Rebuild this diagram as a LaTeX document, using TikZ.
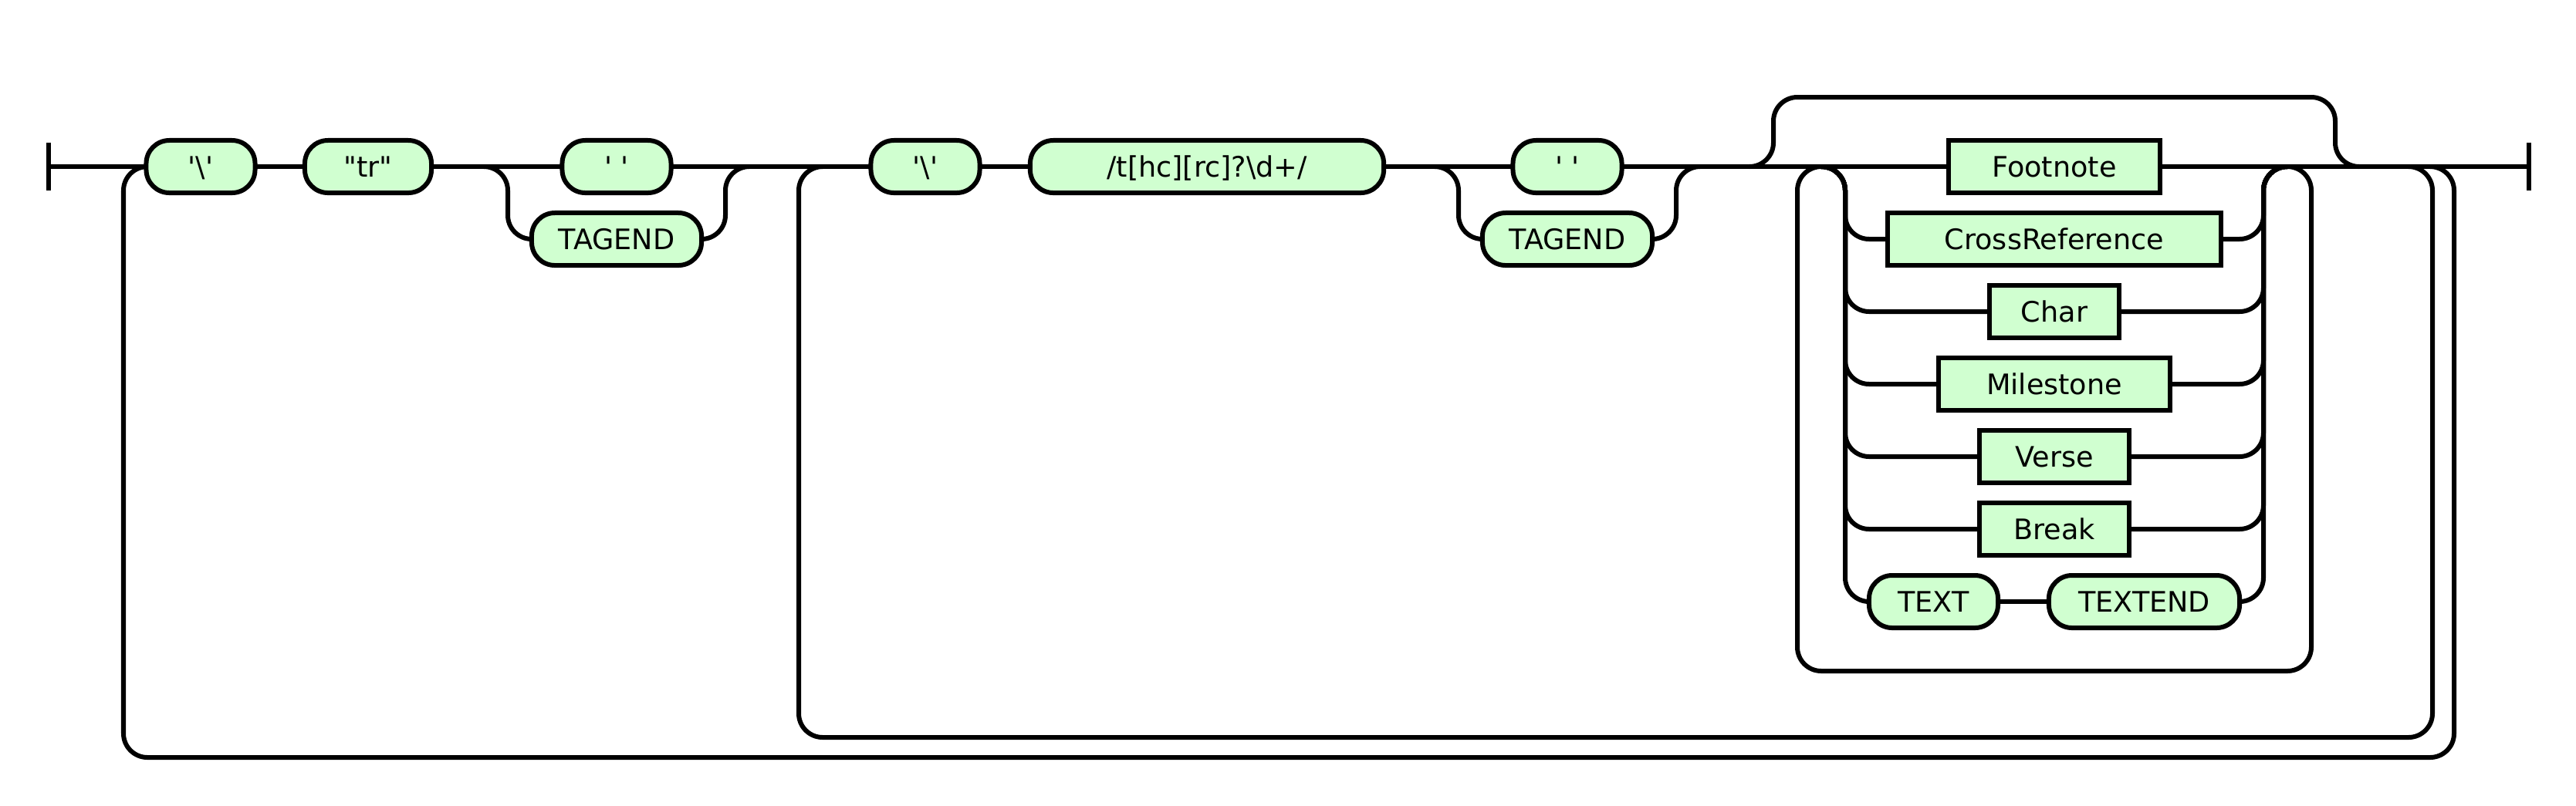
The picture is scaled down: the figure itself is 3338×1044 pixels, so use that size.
\documentclass[tikz,border=0pt]{standalone}
\usepackage{fontspec}
\newfontfamily\rrfont{DejaVu Sans}
\definecolor{rrgreen}{RGB}{208,255,208}
\tikzset{
  rail/.style={line width=0.06cm, rounded corners=0.31cm},
  rrbase/.style={draw, line width=0.06cm, fill=rrgreen, inner sep=0pt, outer sep=0pt,
    minimum height=0.68cm, text height=7.6pt, text depth=0pt,
    font=\rrfont\fontsize{10.4}{12}\selectfont},
  tbox/.style={rrbase, rounded corners=0.3cm, minimum width=#1cm},
  nbox/.style={rrbase, sharp corners, minimum width=#1cm},
}
\begin{document}
\begin{tikzpicture}[x=0.01cm, y=-0.01cm]
\useasboundingbox (0,0) rectangle (3338,1044);
% junction coordinates
\coordinate (sb) at (63,216);
\coordinate (eb) at (3277,216);
\coordinate (ol) at (191,216);
\coordinate (or) at (3149,216);
\coordinate (il) at (1066,216);
\coordinate (ir) at (3121,216);
\coordinate (c1s) at (627,216);
\coordinate (c1m) at (971,216);
\coordinate (c2s) at (1859,216);
\coordinate (c2m) at (2203,216);
\coordinate (zs) at (2267,216);
\coordinate (ze) at (3057,216);
\coordinate (c3s) at (2360,216);
\coordinate (c3m) at (2964,216);
% nodes
\node[tbox=1.41] (bs1) at (260,216) {'\textbackslash'};
\node[tbox=1.64] (tr) at (477,216) {"tr"};
\node[tbox=1.41] (sp1) at (799,216) {' '};
\node[tbox=2.20] (te1) at (799,310) {TAGEND};
\node[tbox=1.41] (bs2) at (1199,216) {'\textbackslash'};
\node[tbox=4.58] (rx) at (1564,216) {/t[hc][rc]?{\textbackslash}d+/};
\node[tbox=1.41] (sp2) at (2031,216) {' '};
\node[tbox=2.20] (te2) at (2031,310) {TAGEND};
\node[nbox=2.74] (fn) at (2662,216) {Footnote};
\node[nbox=4.32] (cr) at (2662,310) {CrossReference};
\node[nbox=1.67] (ch) at (2662,404) {Char};
\node[nbox=2.99] (ms) at (2662,498) {Milestone};
\node[nbox=1.94] (vs) at (2662,592) {Verse};
\node[nbox=1.94] (bk) at (2662,686) {Break};
\node[tbox=1.67] (tx) at (2505.5,780) {TEXT};
\node[tbox=2.47] (tn) at (2778.5,780) {TEXTEND};
% start / end bars
\draw[rail] ([yshift=0.31cm]sb) -- ([yshift=-0.31cm]sb);
\draw[rail] ([yshift=0.31cm]eb) -- ([yshift=-0.31cm]eb);
% main line
\draw[rail] (sb) -- (bs1.west);
\draw[rail] (bs1.east) -- (tr.west);
\draw[rail] (tr.east) -- (sp1.west);
\draw[rail] (sp1.east) -- (bs2.west);
\draw[rail] (bs2.east) -- (rx.west);
\draw[rail] (rx.east) -- (sp2.west);
\draw[rail] (sp2.east) -- (fn.west);
\draw[rail] (fn.east) -- (eb);
% choice 1
\draw[rail] (c1s) -- (658,216) -- (658,310) -- (te1.west);
\draw[rail] (te1.east) -- (940,310) -- (940,216) -- (c1m);
% choice 2
\draw[rail] (c2s) -- (1890,216) -- (1890,310) -- (te2.west);
\draw[rail] (te2.east) -- (2172,310) -- (2172,216) -- (c2m);
% choice 3 rows
\foreach \n/\yy in {cr/310, ch/404, ms/498, vs/592, bk/686}{
  \draw[rail] (c3s) -- (2391,216) -- (2391,\yy) -- (\n.west);
  \draw[rail] (\n.east) -- (2933,\yy) -- (2933,216) -- (c3m);
}
\draw[rail] (c3s) -- (2391,216) -- (2391,780) -- (tx.west);
\draw[rail] (tx.east) -- (tn.west);
\draw[rail] (tn.east) -- (2933,780) -- (2933,216) -- (c3m);
% zero-or-more loop and bypass
\draw[rail] (c3s) -- (2329,216) -- (2329,870) -- (2995,870) -- (2995,216) -- (c3m);
\draw[rail] (zs) -- (2298,216) -- (2298,126) -- (3026,126) -- (3026,216) -- (ze);
% inner loop
\draw[rail] (il) -- (1035,216) -- (1035,956) -- (3152,956) -- (3152,216) -- (ir);
% outer loop
\draw[rail] (ol) -- (160,216) -- (160,982) -- (3180,982) -- (3180,216) -- (or);
\end{tikzpicture}
\end{document}
